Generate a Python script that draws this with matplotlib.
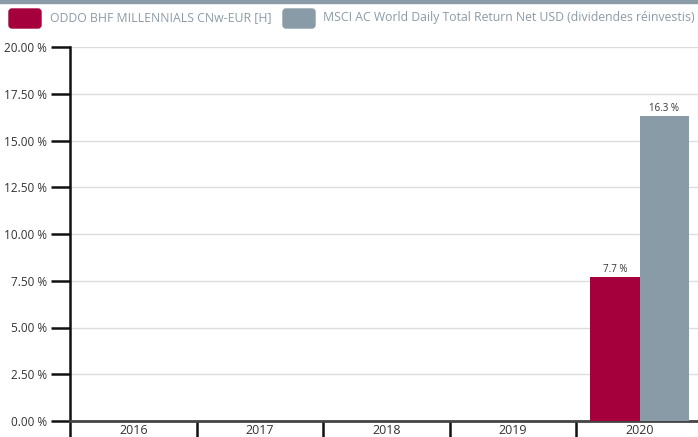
import matplotlib
matplotlib.use("Agg")
import matplotlib.pyplot as plt
import numpy as np
from matplotlib.patches import FancyBboxPatch, Rectangle

# ---------------------------------------------------------------------------
# Data
# ---------------------------------------------------------------------------
years = ["2016", "2017", "2018", "2019", "2020"]
fund_values = [np.nan, np.nan, np.nan, np.nan, 7.7]
index_values = [np.nan, np.nan, np.nan, np.nan, 16.3]
series_names = [
    "ODDO BHF MILLENNIALS CNw-EUR [H]",
    "MSCI AC World Daily Total Return Net USD (dividendes réinvestis)",
]
colors = ["#a5003c", "#8a9ba8"]
y_ticks = [0, 2.5, 5, 7.5, 10, 12.5, 15, 17.5, 20]

plt.rcParams["font.family"] = ["Open Sans", "DejaVu Sans"]

W, H = 698, 437
fig = plt.figure(figsize=(W / 100, H / 100), dpi=100)

# axes: y-axis at x=70, top at y=47, bottom at y=421; extends beyond the right edge
cat_w = 126.6
ax_left, ax_right = 70, 70 + cat_w * 5
ax_top, ax_bot = 47, 421
ax = fig.add_axes([ax_left / W, 1 - ax_bot / H, (ax_right - ax_left) / W, (ax_bot - ax_top) / H])

x = np.arange(len(years))
bw = 0.39
b1 = ax.bar(x - bw / 2, fund_values, bw, color=colors[0], zorder=3)
b2 = ax.bar(x + bw / 2, index_values, bw, color=colors[1], zorder=3)

for bars, vals in ((b1, fund_values), (b2, index_values)):
    for rect, v in zip(bars, vals):
        if np.isnan(v):
            continue
        ax.annotate(f"{v:.1f} %", (rect.get_x() + rect.get_width() / 2, v),
                    xytext=(0, 1.5), textcoords="offset points",
                    ha="center", va="bottom", fontsize=7, color="#333333")

ax.set_xlim(-0.5, len(years) - 0.5)
ax.set_ylim(0, 20)
ax.set_yticks(y_ticks)
ax.set_yticklabels([f"{v:.2f} %" for v in y_ticks])
ax.yaxis.grid(True, color="#dddddd", linewidth=1, zorder=0)
ax.set_axisbelow(True)

# x: labels at centres, ticks at category boundaries
ax.set_xticks(x)
ax.set_xticklabels(years)
ax.set_xticks(np.arange(-0.5, len(years), 1), minor=True)
ax.tick_params(axis="x", which="major", length=0, pad=2, labelsize=9, labelcolor="#333333")
ax.tick_params(axis="x", which="minor", length=11.5, width=1.8, color="#111111", direction="out")
ax.tick_params(axis="y", length=13.5, width=1.8, color="#111111", pad=3, labelsize=8.5,
               labelcolor="#333333")

for side in ("top", "right"):
    ax.spines[side].set_visible(False)
ax.spines["left"].set_linewidth(1.8)
ax.spines["left"].set_color("#111111")
ax.spines["bottom"].set_linewidth(2)
ax.spines["bottom"].set_color("#444444")

# top strip
fig.patches.append(Rectangle((0, 1 - 3 / H), 1, 3 / H, transform=fig.transFigure,
                             color="#8a9ba8", zorder=0))

# legend (rounded swatches)
sw_x = [9, 283]
txt_x = [50, 323]
for sx, tx, name, c in zip(sw_x, txt_x, series_names, colors):
    fig.patches.append(FancyBboxPatch((sx + 3, 9 + 3), 32 - 6, 19 - 6,
                                      boxstyle="round,pad=3",
                                      transform=None, color=c))
    fig.text(tx / W, 1 - 17.5 / H, name, ha="left", va="center",
             fontsize=8.8, color="#8a9ba8")

# swatch coordinates above are in pixels from the top; flip them
for p in fig.patches[1:]:
    x0, y0 = p.get_x(), p.get_y()
    p.set_y(H - y0 - p.get_height())

fig.savefig("out.png", dpi=100)
